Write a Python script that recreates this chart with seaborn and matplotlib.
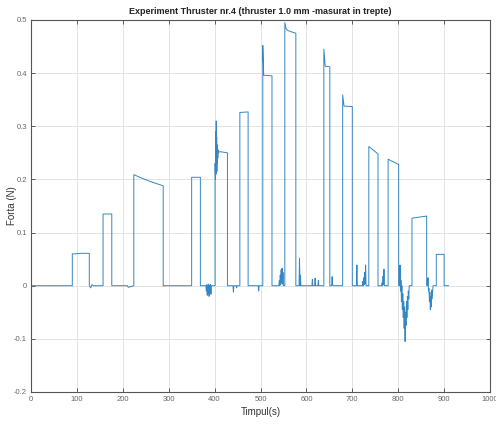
import matplotlib
matplotlib.use("Agg")
import matplotlib.pyplot as plt
import seaborn as sns
import pandas as pd

# ---- data: (time s, force N) samples per stretch ----
step_1 = [(0, 0), (90, 0), (90, 0.060), (96, 0.060), (110, 0.061), (127, 0.061), (127, 0),
          (130, -0.004), (133, 0.002), (136, 0)]
step_2 = [(157, 0), (157, 0.135), (176, 0.135), (176, 0), (210, 0), (212, -0.003), (224, 0)]
step_3 = [(224, 0.209), (240, 0.203), (260, 0.196), (288, 0.188), (288, 0), (350, 0)]
step_4 = [(350, 0.204), (369, 0.204), (369, 0), (381, 0), (382, -0.010), (383, 0.002),
          (384, -0.018), (385, 0.001), (386, -0.015), (387, 0.003), (388, -0.020),
          (389, 0.000), (390, -0.012), (391, 0.002), (392, -0.016), (393, 0), (401, 0)]
step_5 = [(401, 0.230), (402, 0.200), (402.5, 0.290), (403, 0.210), (403.5, 0.310),
          (404, 0.220), (404.5, 0.280), (405, 0.215), (405.5, 0.265), (406, 0.230),
          (406.5, 0.260), (407, 0.240), (407.5, 0.255), (408, 0.250), (410, 0.252),
          (414, 0.252), (428, 0.250), (428, 0), (440, 0), (441, -0.012), (442, 0),
          (447, 0), (448, -0.004), (449, 0), (455, 0)]
step_6 = [(455, 0.326), (473, 0.327), (473, 0), (495, 0), (496, -0.010), (497, 0), (505, 0)]
step_7 = [(505, 0.452), (507, 0.396), (525, 0.395), (525, 0), (540, 0), (541, 0.010),
          (542, 0), (543, 0.020), (544, 0.002), (545, 0.030), (546, 0.005), (547, 0.033),
          (548, 0.003), (549, 0.025), (550, 0), (553, 0)]
step_8 = [(553, 0.495), (556, 0.483), (560, 0.480), (577, 0.475), (577, 0), (584, 0),
          (585, 0.052), (586, 0), (587, 0.020), (588, 0), (612, 0), (613, 0.012), (614, 0),
          (618, 0), (619, 0.014), (620, 0), (625, 0), (626, 0.010), (627, 0), (638, 0)]
step_9 = [(638, 0.445), (641, 0.413), (651, 0.412), (651, 0), (655, 0), (656, 0.017),
          (657, 0.002), (658, 0), (679, 0)]
step_10 = [(679, 0.359), (682, 0.338), (700, 0.337), (700, 0), (709, 0), (710, 0.039),
           (711, 0), (722, 0), (723, 0.008), (724, 0), (725, 0.015), (726, 0.002),
           (727, 0.025), (728, 0.004), (729, 0.039), (730, 0), (736, 0)]
step_11 = [(736, 0.262), (756, 0.248), (756, 0), (764, 0), (765, 0.006), (766, 0),
           (767, 0.018), (768, 0.002), (769, 0.031), (770, 0), (778, 0)]
step_12 = [(778, 0.238), (801, 0.228), (801, 0), (803, 0), (804, 0.039), (805, -0.010),
           (806, 0.010), (807, -0.030), (808, 0.000), (809, -0.045), (810, -0.015),
           (811, -0.060), (812, -0.030), (813, -0.080), (814, -0.040), (815, -0.105),
           (816, -0.050), (817, -0.075), (818, -0.030), (819, -0.060), (820, -0.020),
           (821, -0.045), (822, -0.010), (823, -0.025), (824, 0), (830, 0)]
step_13 = [(830, 0.127), (845, 0.129), (862, 0.131), (862, 0), (864, 0), (865, 0.015),
           (866, -0.010), (867, -0.005), (868, -0.030), (869, -0.012), (870, -0.045),
           (871, -0.020), (872, -0.040), (873, -0.008), (874, -0.025), (876, 0), (883, 0)]
step_14 = [(883, 0.059), (900, 0.059), (900, 0), (910, 0)]

x_ticks = [0, 100, 200, 300, 400, 500, 600, 700, 800, 900, 1000]
y_ticks = [-0.2, -0.1, 0, 0.1, 0.2, 0.3, 0.4, 0.5]
y_tick_labels = ["-0.2", "-0.1", "0", "0.1", "0.2", "0.3", "0.4", "0.5"]
title = "Experiment Thruster nr.4 (thruster 1.0 mm -masurat in trepte)"
x_label = "Timpul(s)"
y_label = "Forta (N)"

samples = (step_1 + step_2 + step_3 + step_4 + step_5 + step_6 + step_7 + step_8
           + step_9 + step_10 + step_11 + step_12 + step_13 + step_14)
df = pd.DataFrame(samples, columns=["t", "f"])

sns.set_theme(style="whitegrid")
plt.rcParams["font.family"] = ["Liberation Sans Narrow", "Liberation Sans", "DejaVu Sans"]

fig = plt.figure(figsize=(4.96, 4.25), dpi=100)
ax = fig.add_axes([31 / 496, 33 / 425, 459 / 496, 372 / 425])
ax.set_facecolor("white")

sns.lineplot(data=df, x="t", y="f", sort=False, estimator=None, ax=ax,
             color="#3586c2", linewidth=0.7)

ax.set_xlim(0, 1000)
ax.set_ylim(-0.2, 0.5)
ax.set_xticks(x_ticks)
ax.set_xticklabels([str(v) for v in x_ticks])
ax.set_yticks(y_ticks)
ax.set_yticklabels(y_tick_labels)
ax.grid(True, color="#e3e3e3", linewidth=0.7)
for s in ax.spines.values():
    s.set_visible(True)
    s.set_color("#555555")
    s.set_linewidth(0.8)
ax.tick_params(axis="both", which="both", direction="in", length=3, width=0.6,
               colors="#444444", labelsize=5.5, labelcolor="#666666",
               top=True, right=True, bottom=True, left=True, pad=3)
ax.set_title(title, fontsize=6.5, fontweight="bold", color="#222222", pad=4)
ax.set_xlabel(x_label, fontsize=7, color="#333333", labelpad=3)
ax.set_ylabel(y_label, fontsize=7, color="#333333")
ax.yaxis.set_label_coords(-0.03, 0.5)

fig.savefig("out.png", dpi=100)
